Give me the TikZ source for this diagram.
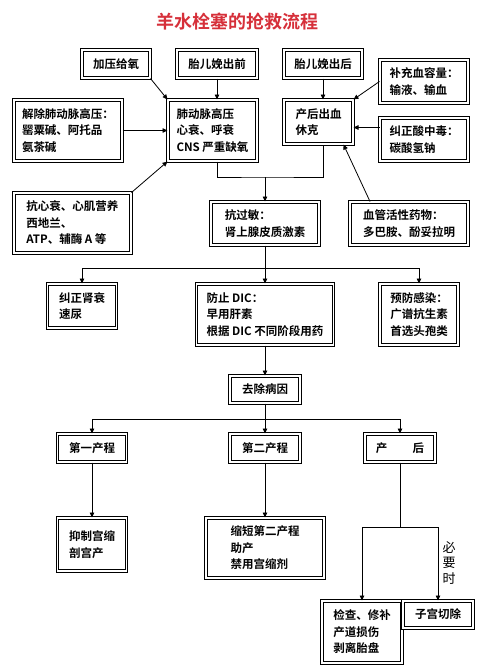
\documentclass[tikz,border=0pt]{standalone}
\usepackage{fontspec}
\setmainfont{Noto Sans CJK SC}[BoldFont={Noto Sans CJK SC Bold}]
\usetikzlibrary{arrows.meta,positioning}
\definecolor{titlered}{RGB}{214,48,58}
\tikzset{
    rescuebox/.style={draw, double, double distance=1.8pt, line width=1pt, fill=white, align=left, font=\bfseries\fontsize{11.5}{16.5}\selectfont, inner sep=3pt},
    rescuearrow/.style={-{Triangle[length=5pt,width=4.5pt]}, line width=0.8pt},
    rescueline/.style={line width=0.8pt},
    rescuenote/.style={font=\fontsize{13}{15.5}\selectfont, align=center, inner sep=0pt},
    rescuetitle/.style={font=\bfseries\fontsize{18}{20}\selectfont, text=titlered}
}
\begin{document}
\begin{tikzpicture}[x=1pt,y=-1pt]
        \useasboundingbox (0,0) rectangle (490,667);
        \node[rescuetitle] (title) at (237,22) {羊水栓塞的抢救流程};

        % top row
        \node[rescuebox, minimum width=68pt, minimum height=28pt] (jiaya) at (116,64) {加压给氧};
        \node[rescuebox, minimum width=80pt, minimum height=28pt] (taiqian) at (217,64) {胎儿娩出前};
        \node[rescuebox, minimum width=78pt, minimum height=28pt] (taihou) at (323,64) {胎儿娩出后};
        \node[rescuebox, minimum width=88pt, minimum height=43pt] (buchong) at (424,81.5) {补充血容量：\\输液、输血};
        \node[rescuebox, minimum width=108pt, minimum height=61pt] (jiechu) at (68,130.5) {解除肺动脉高压：\\罂粟碱、阿托品\\氨茶碱};
        \node[rescuebox, minimum width=89pt, minimum height=61pt] (feidong) at (212.5,130.5) {肺动脉高压\\心衰、呼衰\\CNS 严重缺氧};
        \node[rescuebox, minimum width=69pt, minimum height=44pt] (chanhou) at (318.5,122) {产后出血\\休克};
        \node[rescuebox, minimum width=88pt, minimum height=43pt] (jiuzheng) at (424,139.5) {纠正酸中毒：\\碳酸氢钠};
        \node[rescuebox, minimum width=117pt, minimum height=60pt] (kangxin) at (72.5,223) {抗心衰、心肌营养\\西地兰、\\ATP、辅酶 A 等};
        \node[rescuebox, minimum width=108pt, minimum height=43pt] (kangguo) at (265,223.5) {抗过敏：\\肾上腺皮质激素};
        \node[rescuebox, minimum width=118pt, minimum height=43pt] (xueguan) at (409,223.5) {血管活性药物：\\多巴胺、酚妥拉明};

        % middle row
        \node[rescuebox, minimum width=69pt, minimum height=44pt] (shenshuai) at (82,306) {纠正肾衰\\速尿};
        \node[rescuebox, minimum width=137pt, minimum height=61pt] (dic) at (265,314.5) {防止 DIC：\\早用肝素\\根据 DIC 不同阶段用药};
        \node[rescuebox, minimum width=78pt, minimum height=61pt] (ganran) at (419,314.5) {预防感染：\\广谱抗生素\\首选头孢类};
        \node[rescuebox, minimum width=70pt, minimum height=27pt] (quchu) at (265,389.5) {去除病因};

        % bottom rows
        \node[rescuebox, minimum width=69pt, minimum height=28pt] (diyi) at (92,448) {第一产程};
        \node[rescuebox, minimum width=70pt, minimum height=28pt] (dier) at (265,448) {第二产程};
        \node[rescuebox, minimum width=70pt, minimum height=28pt] (chanhouzhi) at (400,448) {产\hspace{2.2em}后};
        \node[rescuebox, minimum width=69pt, minimum height=53pt] (yizhi) at (92,544.5) {抑制宫缩\\剖宫产};
        \node[rescuebox, minimum width=118pt, minimum height=60pt] (suoduan) at (265,548) {缩短第二产程\\助产\\禁用宫缩剂};
        \node[rescuebox, minimum width=80pt, minimum height=62pt] (jiancha) at (362,632) {检查、修补\\产道损伤\\剥离胎盘};
        \node[rescuebox, minimum width=70pt, minimum height=27pt] (zigong) at (438,614.5) {子宫切除};
        \node[rescuenote] (biyao) at (449,563) {必\\要\\时};

        % junctions
        \coordinate (hub1) at (265,177);
        \coordinate (hub2) at (265,268);
        \coordinate (hub3) at (265,419);
        \coordinate (hub4) at (400,527);

        \draw[rescuearrow] (jiaya.south east) -- (feidong.north west);
        \draw[rescuearrow] (taiqian) -- (taiqian |- feidong.north);
        \draw[rescuearrow] (taihou) -- (taihou |- chanhou.north);
        \draw[rescuearrow] (buchong.west) -- (chanhou.north east);
        \draw[rescuearrow] (jiechu) -- (feidong);
        \draw[rescuearrow] ([yshift=12pt]jiuzheng.west) -- ([yshift=12pt]jiuzheng.west -| chanhou.east);
        \draw[rescuearrow] (kangxin.north east) -- (feidong.south west);
        \draw[rescuearrow] ([xshift=-39pt]xueguan.north) -- ([xshift=-10pt]chanhou.south east);

        \draw[rescueline] (taiqian |- feidong.south) |- (hub1) -| (taihou |- chanhou.south);
        \draw[rescuearrow] (hub1) -- (kangguo);
        \draw[rescueline] (kangguo) -- (hub2);
        \foreach \b in {shenshuai,dic,ganran}
            \draw[rescuearrow] (hub2) -| (\b);
        \draw[rescuearrow] (dic) -- (quchu);
        \draw[rescueline] (quchu) -- (hub3);
        \foreach \b in {diyi,dier,chanhouzhi}
            \draw[rescuearrow] (hub3) -| (\b);
        \draw[rescuearrow] (diyi) -- (yizhi);
        \draw[rescuearrow] (dier) -- (suoduan);
        \draw[rescueline] (chanhouzhi) -- (hub4);
        \foreach \b in {jiancha,zigong}
            \draw[rescuearrow] (hub4) -| (\b);
\end{tikzpicture}
\end{document}
